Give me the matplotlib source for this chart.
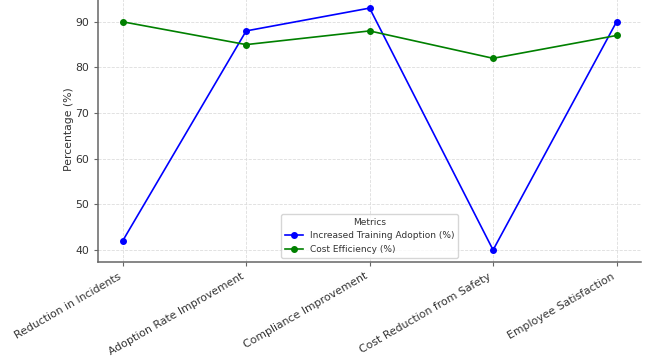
import matplotlib.pyplot as plt

categories = ["Reduction in Incidents", "Adoption Rate Improvement", "Compliance Improvement",
              "Cost Reduction from Safety", "Employee Satisfaction"]
training_adoption = [42, 88, 93, 40, 90]
cost_efficiency = [90, 85, 88, 82, 87]

fig = plt.figure(figsize=(6.55, 3.63), dpi=100)
ax = fig.add_axes([0.1496, 0.278, 0.8294, 0.733])

x = range(len(categories))
ax.plot(x, training_adoption, marker='o', markersize=4, color='blue', linewidth=1.2,
        label='Increased Training Adoption (%)')
ax.plot(x, cost_efficiency, marker='o', markersize=4, color='green', linewidth=1.2,
        label='Cost Efficiency (%)')

ax.set_xticks(list(x))
ax.set_xticklabels(categories, rotation=30, ha='right', fontsize=7.8, color='#333333')
ax.tick_params(axis='y', labelsize=7.8, labelcolor='#333333')
ax.tick_params(color='#666666', length=3)
ax.set_ylabel('Percentage (%)', fontsize=7.8, color='#333333', labelpad=1)
ax.grid(True, linestyle='--', color='#dddddd', linewidth=0.6)

for s in ['top', 'right']:
    ax.spines[s].set_visible(False)
for s in ['left', 'bottom']:
    ax.spines[s].set_color('#666666')
    ax.spines[s].set_linewidth(1.1)

leg = ax.legend(title='Metrics', loc='lower center', fontsize=6.5, title_fontsize=6.5,
                frameon=True)
leg.get_title().set_color('#333333')
for t in leg.get_texts():
    t.set_color('#333333')

fig.savefig('out.png', dpi=100)
